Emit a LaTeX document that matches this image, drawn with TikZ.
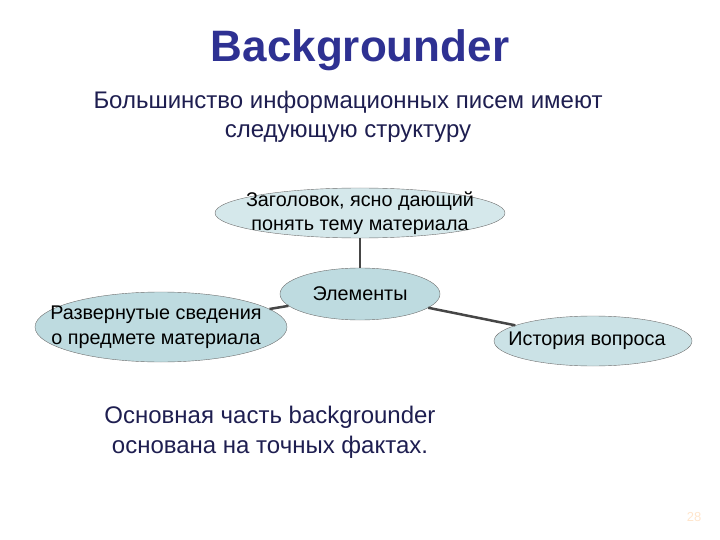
\documentclass[tikz,border=0pt]{standalone}
\usepackage		 {fontspec}
\setmainfont{Liberation Sans}
\usepackage		 {xcolor   }
\usepackage		 {tikz	  }
\usetikzlibrary{shapes,calc,positioning}
\definecolor{titleblue}{RGB}{46,49,146}
\definecolor{textnavy}{RGB}{30,30,80}
\definecolor{elfill}{RGB}{190,219,224}
\definecolor{elline}{RGB}{110,110,110}

\begin{document}
\begin{tikzpicture}[x=1pt,y=-1pt]
  \tikzset{ el/.style={ellipse,draw=elline,fill=elfill,inner sep=0pt},
    lbl/.style={align=center,inner sep=0pt,font=\fontsize{19.8}{24.5}\selectfont},
    ln/.style={-,line width=2.5pt,draw=gray!55!black},
  }
  \useasboundingbox (0,0) rectangle (720,540);
  \node[titleblue,font=\fontsize{44}{50}\selectfont\bfseries] (T) at (360, 50) {Backgrounder};
  \node[textnavy,align=center,font=\fontsize{24}{29}\selectfont] (S) at (348, 117) {Большинство информационных писем имеют\\следующую структуру};

  \node[el,fill=elfill!65!white,minimum width=290pt,minimum height=50pt,
    label={[lbl]center:Заголовок, ясно дающий\\понять тему материала}] (Z) at (360, 213) {};
  \node[el,minimum width=160pt,minimum height=52pt,
    label={[lbl]center:Элементы}] (E) at (360, 294) {};
  \node[el,minimum width=252pt,minimum height=70pt,
    label={[lbl,xshift=-5pt]center:Развернутые сведения\\о предмете материала}] (R) at (161, 327) {};
  \node[el,fill=elfill!80!white,minimum width=198pt,minimum height=50pt,
    label={[lbl,xshift=-6pt]center:История вопроса}] (I) at (593, 341) {};

  \draw[ln] (Z) -- (E);
  \draw[ln] (E) -- (R);
  \draw[ln] (E) -- (I);

  \node[textnavy,align=center,font=\fontsize{24}{30}\selectfont] (B) at (270, 432) {Основная часть backgrounder\\основана на точных фактах.};
  \node[orange!20,font=\fontsize{13}{15}\selectfont] (N) at (694, 517) {28};
\end{tikzpicture}
\end{document}
